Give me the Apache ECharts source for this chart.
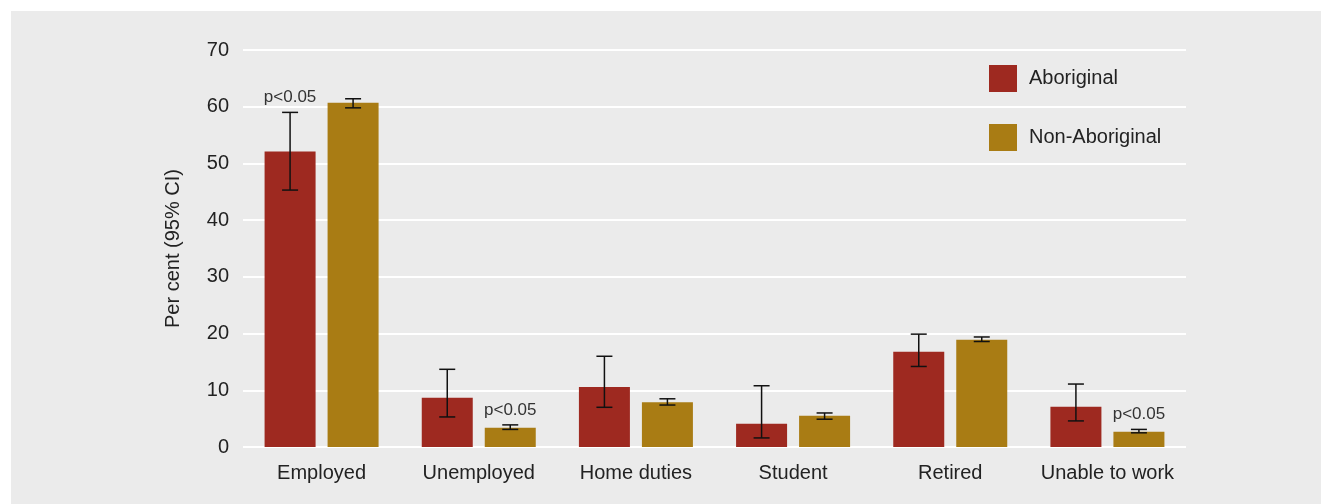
<!DOCTYPE html>
<html><head><meta charset="utf-8">
<script src="https://cdn.jsdelivr.net/npm/echarts@6/dist/echarts.min.js"></script>
<style>html,body{margin:0;padding:0;background:#fff}#c{width:1321px;height:504px}</style>
</head><body><div id="c"></div>
<script>
const categories = ['Employed','Unemployed','Home duties','Student','Retired','Unable to work'];
const seriesNames = ['Aboriginal','Non-Aboriginal'];
const aboriginal = [52.1, 8.7, 10.6, 4.1, 16.8, 7.1];
const aboriginalLow = [45.3, 5.3, 7.0, 1.6, 14.2, 4.6];
const aboriginalHigh = [59.0, 13.7, 16.0, 10.8, 19.9, 11.1];
const nonAboriginal = [60.7, 3.4, 7.9, 5.5, 18.9, 2.7];
const nonAboriginalLow = [59.8, 3.1, 7.4, 4.9, 18.6, 2.5];
const nonAboriginalHigh = [61.4, 3.9, 8.5, 6.0, 19.4, 3.1];
const aboriginalSig = [true, false, false, false, false, false];
const nonAboriginalSig = [false, true, false, false, false, true];
const yTicks = [0, 10, 20, 30, 40, 50, 60, 70];

const colors = ['#9e2920', '#a97c14'];
const FONT = 'Liberation Sans';
const BAR_W = 51, GAP = 12;

function errData(low, high, sig) {
  return categories.map((c, i) => [i, low[i], high[i], sig[i] ? 1 : 0]);
}
function errSeries(name, low, high, sig, side) {
  return {
    type: 'custom', name: name + ' CI', z: 5,
    data: errData(low, high, sig),
    encode: {x: 0, y: [1, 2]},
    renderItem: function (params, api) {
      const i = api.value(0);
      const lo = api.coord([i, api.value(1)]);
      const hi = api.coord([i, api.value(2)]);
      const x = lo[0] + side * (BAR_W + GAP) / 2;
      const cap = 8;
      const st = {stroke: '#111', lineWidth: 1.5};
      const children = [
        {type: 'line', shape: {x1: x, y1: hi[1], x2: x, y2: lo[1]}, style: st},
        {type: 'line', shape: {x1: x - cap, y1: hi[1], x2: x + cap, y2: hi[1]}, style: st},
        {type: 'line', shape: {x1: x - cap, y1: lo[1], x2: x + cap, y2: lo[1]}, style: st}
      ];
      if (api.value(3)) {
        children.push({type: 'text', style: {text: 'p<0.05', x: x, y: hi[1] - 15, align: 'center', verticalAlign: 'middle', fontSize: 17, fontFamily: FONT, fill: '#333'}});
      }
      return {type: 'group', children: children};
    }
  };
}

const chart = echarts.init(document.getElementById('c'), null, {renderer: 'canvas'});
chart.setOption({
  animation: false,
  backgroundColor: '#fff',
  graphic: [{type: 'rect', z: -10, shape: {x: 11, y: 11, width: 1310, height: 493}, style: {fill: '#ebebeb'}}],
  grid: {left: 243, right: 135, top: 50, bottom: 57},
  legend: {
    orient: 'vertical', left: 989, top: 65, padding: 0, itemWidth: 28, itemHeight: 27, itemGap: 32,
    icon: 'rect', data: seriesNames,
    textStyle: {fontFamily: FONT, fontSize: 20, color: '#222', padding: [0, 0, 0, 7]}
  },
  xAxis: {
    type: 'category', data: categories,
    axisLine: {show: false}, axisTick: {show: false},
    axisLabel: {interval: 0, hideOverlap: false, fontFamily: FONT, fontSize: 20, color: '#222', margin: 16}
  },
  yAxis: {
    type: 'value', min: 0, max: 70, interval: 10,
    name: 'Per cent (95% CI)', nameLocation: 'middle', nameGap: 60, nameRotate: 90,
    nameTextStyle: {fontFamily: FONT, fontSize: 20, color: '#222'},
    axisLine: {show: false}, axisTick: {show: false},
    axisLabel: {fontFamily: FONT, fontSize: 20, color: '#222', margin: 14,
      formatter: v => yTicks.includes(v) ? String(v) : ''},
    splitLine: {lineStyle: {color: '#fff', width: 2}}
  },
  series: [
    {type: 'bar', name: seriesNames[0], data: aboriginal, barWidth: BAR_W, barGap: (GAP / BAR_W * 100) + '%', itemStyle: {color: colors[0]}},
    {type: 'bar', name: seriesNames[1], data: nonAboriginal, barWidth: BAR_W, itemStyle: {color: colors[1]}},
    errSeries(seriesNames[0], aboriginalLow, aboriginalHigh, aboriginalSig, -1),
    errSeries(seriesNames[1], nonAboriginalLow, nonAboriginalHigh, nonAboriginalSig, 1)
  ]
});
</script></body></html>
